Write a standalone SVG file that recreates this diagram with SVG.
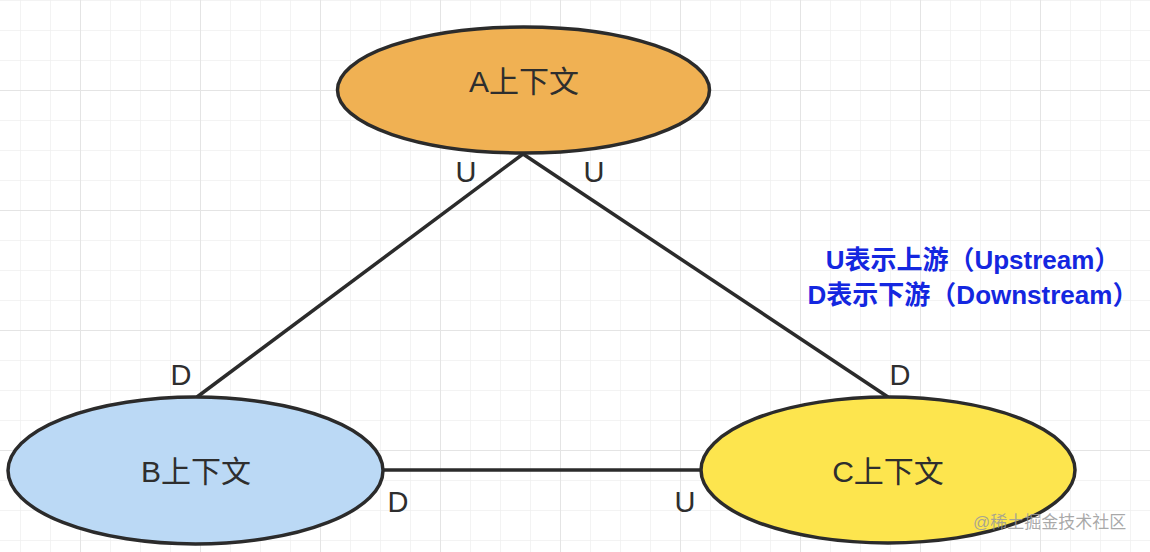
<svg xmlns="http://www.w3.org/2000/svg" width="1150" height="552" viewBox="0 0 1150 552">
<defs>
<pattern id="minor" x="20" y="0" width="30" height="30" patternUnits="userSpaceOnUse">
<path d="M0 0V30M0 0H30" fill="none" stroke="#efefef" stroke-width="1.5"/>
</pattern>
<pattern id="major" x="80" y="90" width="120" height="120" patternUnits="userSpaceOnUse">
<path d="M0 0V120M0 0H120" fill="none" stroke="#e4e4e4" stroke-width="2"/>
</pattern>
</defs>
<style>
.node{stroke:#2b2b2b;stroke-width:3.5}
.ntext{font-family:"Helvetica Neue","Liberation Sans","Noto Sans CJK SC",sans-serif;font-size:30px;fill:#2e2e2e;text-anchor:middle;dominant-baseline:central}
.lbl{font-family:"Liberation Sans","Noto Sans CJK SC",sans-serif;font-size:29px;fill:#2e2e2e;text-anchor:middle;dominant-baseline:central}
.edge{stroke:#2b2b2b;stroke-width:3.5;fill:none}
.note{font-family:"Liberation Sans","Noto Sans CJK SC",sans-serif;font-size:26px;font-weight:bold;fill:#1427e0;text-anchor:middle}
.wm{font-family:"Liberation Sans","Noto Sans CJK SC",sans-serif;font-size:17px;fill:#9a9a9a;fill-opacity:0.85}
</style>
<rect width="1150" height="552" fill="#ffffff"/>
<rect width="1150" height="552" fill="url(#minor)"/>
<rect width="1150" height="552" fill="url(#major)"/>
<g id="connectors">
<line class="edge" x1="523" y1="154" x2="197" y2="397"/>
<line class="edge" x1="523" y1="154" x2="888" y2="397"/>
<line class="edge" x1="383" y1="470" x2="702" y2="470"/>
</g>
<g id="nodeA">
<ellipse class="node" cx="523.5" cy="90" rx="186" ry="63" fill="#f0b153"/>
<text class="ntext" x="524" y="81">A上下文</text>
</g>
<g id="nodeB">
<ellipse class="node" cx="195.5" cy="470.5" rx="187.5" ry="73.5" fill="#bbd9f5"/>
<text class="ntext" x="196" y="471">B上下文</text>
</g>
<g id="nodeC">
<ellipse class="node" cx="888" cy="470" rx="187" ry="73" fill="#fde54e"/>
<text class="ntext" x="888" y="471">C上下文</text>
</g>
<g id="labels">
<text class="lbl" x="466" y="172">U</text>
<text class="lbl" x="594" y="172">U</text>
<text class="lbl" x="181" y="375">D</text>
<text class="lbl" x="900" y="375">D</text>
<text class="lbl" x="398" y="502">D</text>
<text class="lbl" x="685" y="502">U</text>
</g>
<g id="note">
<text class="note" x="973" y="269">U表示上游（Upstream）</text>
<text class="note" x="973" y="304">D表示下游（Downstream）</text>
</g>
<text class="wm" x="973" y="528">@稀土掘金技术社区</text>
</svg>
